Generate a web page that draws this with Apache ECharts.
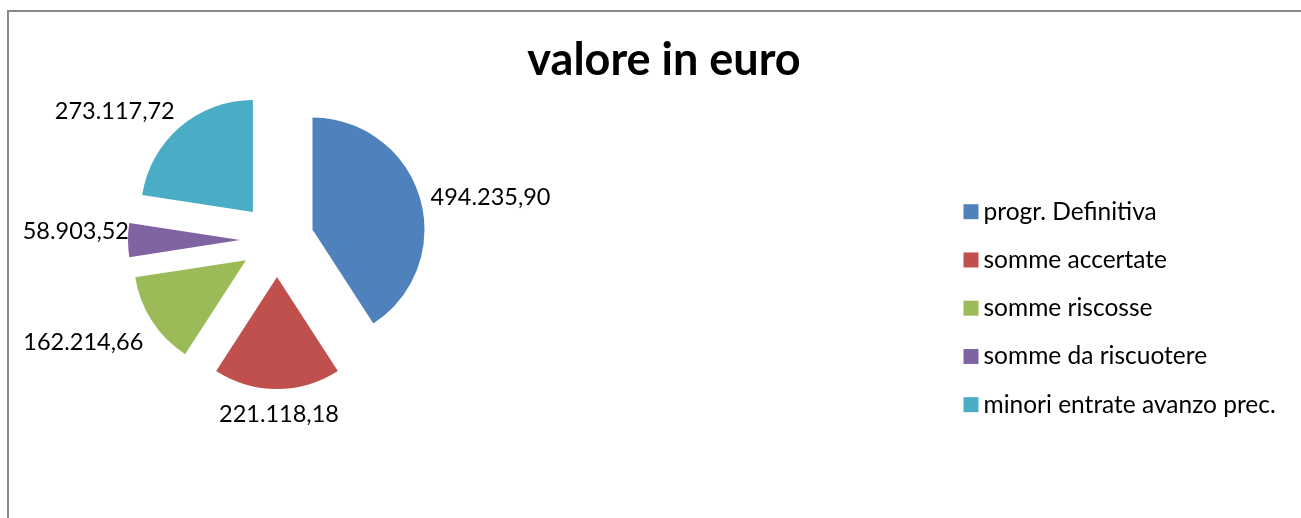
<!DOCTYPE html>
<html style="height: 100%">
<head>
    <meta charset="utf-8">
    <script src="https://cdn.jsdelivr.net/npm/echarts@6/dist/echarts.min.js"></script>
</head>
<body style="height: 100%; margin: 0; background: #fff">
    <div id="main" style="width:1301px;height:518px;"></div>
    <script type="text/javascript">
        // dati del grafico
        var categories = ['progr. Definitiva', 'somme accertate', 'somme riscosse', 'somme da riscuotere', 'minori entrate avanzo prec.'];
        var values = [494235.90, 221118.18, 162214.66, 58903.52, 273117.72];
        var colors = ['#4F81BD', '#C0504D', '#9BBB59', '#8064A2', '#4BACC6'];

        // spostamento delle etichette come in Excel
        var labelNudge = [[-2, 2], [-3, 17], [3, 17], [14, -9], [5, -9]];

        function formatIt(v) {
            var parts = v.toFixed(2).split('.');
            var intPart = parts[0].replace(/\B(?=(\d{3})+(?!\d))/g, '.');
            return intPart + ',' + parts[1];
        }

        var data = [];
        for (var i = 0; i < values.length; i++) {
            data.push({
                name: categories[i],
                value: values[i],
                selected: true,
                itemStyle: { color: colors[i] },
                select: { itemStyle: { color: colors[i], borderWidth: 0 } }
            });
        }

        var myChart = echarts.init(document.getElementById('main'));
        var option = {
            animation: false,
            color: colors,
            textStyle: { fontFamily: 'Lato' },
            title: {
                text: 'valore in euro',
                left: 659,
                top: 33,
                textAlign: 'center',
                textStyle: { fontFamily: 'Lato', fontWeight: 'bold', fontSize: 45, color: '#000' }
            },
            legend: {
                orient: 'vertical',
                left: 963.5,
                top: 198.7,
                padding: 0,
                itemWidth: 15,
                itemHeight: 15,
                itemGap: 22.25,
                icon: 'rect',
                selectedMode: false,
                textStyle: { fontFamily: 'Lato', fontSize: 24.5, lineHeight: 26, color: '#000' },
                data: categories
            },
            graphic: [{
                type: 'rect',
                shape: { x: 8, y: 11, width: 1400, height: 600 },
                style: { fill: 'none', stroke: '#898989', lineWidth: 2 },
                silent: true
            }],
            series: [{
                type: 'pie',
                center: [277, 240],
                radius: [0, 112],
                selectedMode: 'multiple',
                selectedOffset: 37,
                clockwise: true,
                startAngle: 90,
                itemStyle: { borderWidth: 0 },
                emphasis: { disabled: true },
                label: {
                    show: true,
                    position: 'outside',
                    fontFamily: 'Lato',
                    fontSize: 23.5,
                    color: '#000',
                    formatter: function (p) { return formatIt(p.value); }
                },
                labelLine: { show: false, length: 8, length2: 0 },
                labelLayout: function (p) {
                    var n = labelNudge[p.dataIndex];
                    var res = { dx: n[0], dy: n[1] };
                    if (p.dataIndex === 1) res.align = 'center';
                    return res;
                },
                data: data
            }]
        };
        myChart.setOption(option);
    </script>
</body>
</html>
